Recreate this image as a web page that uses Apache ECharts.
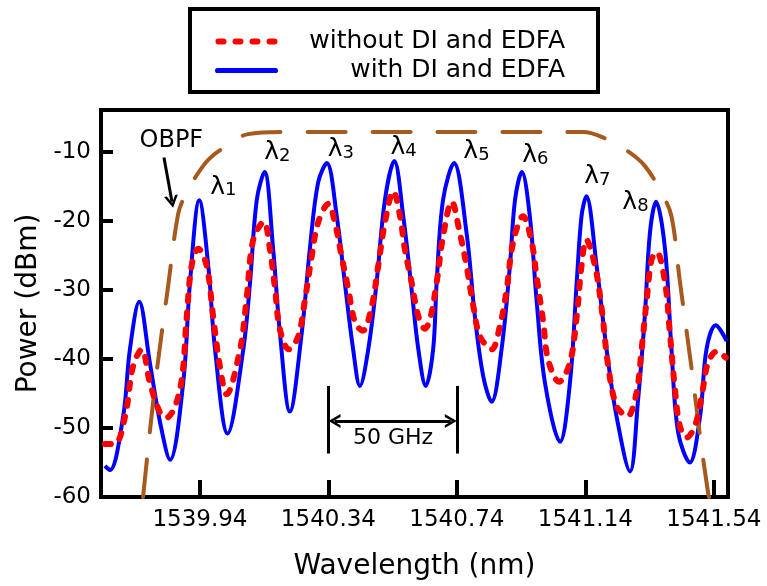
<!DOCTYPE html>
<html>
<head>
<meta charset="utf-8">
<script src="https://cdn.jsdelivr.net/npm/echarts@6/dist/echarts.min.js"></script>
<style>
    html, body { margin: 0; padding: 0; background: #fff; }
    #chart { width: 767px; height: 586px; }
</style>
</head>
<body>
<div id="chart"></div>
<script>
    // 带 DI 和 EDFA（蓝色实线）
    const withWl = [
        1539.644, 1539.660, 1539.701, 1539.722, 1539.751, 1539.784, 1539.816, 1539.847,
        1539.888, 1539.909, 1539.938, 1539.966, 1539.987, 1540.026, 1540.075, 1540.096,
        1540.117, 1540.141, 1540.168, 1540.189, 1540.220, 1540.257, 1540.282, 1540.308,
        1540.335, 1540.366, 1540.391, 1540.417, 1540.438, 1540.464, 1540.490, 1540.516,
        1540.545, 1540.573, 1540.599, 1540.620, 1540.643, 1540.666, 1540.677, 1540.697,
        1540.731, 1540.770, 1540.796, 1540.822, 1540.848, 1540.879, 1540.905, 1540.921,
        1540.942, 1540.967, 1540.988, 1541.014, 1541.061, 1541.092, 1541.113, 1541.128,
        1541.143, 1541.175, 1541.206, 1541.237, 1541.279, 1541.304, 1541.325, 1541.341,
        1541.360, 1541.388, 1541.408, 1541.429, 1541.465, 1541.497, 1541.517, 1541.546,
        1541.580
    ];
    const withPow = [
        -55.5, -56.1, -48.3, -38.6, -31.7, -40.5, -49.2, -54.6,
        -43.4, -28.9, -17.0, -26.5, -38.6, -50.8, -38.6, -28.9,
        -16.9, -12.9, -24.1, -36.2, -47.6, -36.2, -24.1, -14.4,
        -11.6, -19.3, -28.9, -38.6, -43.9, -38.6, -28.9, -16.9,
        -11.3, -19.3, -29.9, -38.6, -43.9, -38.6, -28.9, -16.9,
        -11.6, -21.7, -33.8, -42.5, -46.2, -38.6, -26.5, -16.9,
        -12.9, -19.3, -31.4, -43.4, -52.0, -43.4, -28.9, -19.3,
        -16.4, -26.5, -38.6, -48.3, -56.3, -45.9, -33.8, -21.7,
        -17.2, -24.1, -38.6, -50.7, -55.0, -48.3, -38.6, -35.1,
        -37.4
    ];

    // 不带 DI 和 EDFA（红色点线）
    const withoutWl = [
        1539.644, 1539.675, 1539.707, 1539.732, 1539.759, 1539.784, 1539.816, 1539.836,
        1539.878, 1539.899, 1539.914, 1539.935, 1539.961, 1539.981, 1540.002, 1540.023,
        1540.065, 1540.085, 1540.106, 1540.139, 1540.158, 1540.174, 1540.189, 1540.217,
        1540.246, 1540.267, 1540.288, 1540.308, 1540.340, 1540.360, 1540.381, 1540.402,
        1540.423, 1540.447, 1540.475, 1540.495, 1540.516, 1540.542, 1540.563, 1540.578,
        1540.599, 1540.620, 1540.640, 1540.656, 1540.677, 1540.697, 1540.724, 1540.749,
        1540.770, 1540.791, 1540.812, 1540.848, 1540.874, 1540.895, 1540.915, 1540.946,
        1540.973, 1540.988, 1541.009, 1541.024, 1541.058, 1541.092, 1541.113, 1541.128,
        1541.143, 1541.170, 1541.191, 1541.211, 1541.237, 1541.271, 1541.299, 1541.315,
        1541.331, 1541.346, 1541.362, 1541.388, 1541.403, 1541.419, 1541.434, 1541.455,
        1541.481, 1541.502, 1541.522, 1541.549, 1541.577
    ];
    const withoutPow = [
        -52.3, -52.3, -48.3, -41.0, -38.6, -43.4, -47.8, -48.5,
        -44.4, -33.8, -26.5, -24.0, -26.5, -33.8, -41.0, -45.1,
        -38.6, -31.4, -22.7, -20.1, -24.1, -29.9, -35.7, -38.6,
        -36.7, -31.4, -25.1, -20.2, -17.5, -20.2, -25.1, -29.9,
        -34.7, -35.9, -32.3, -26.5, -20.2, -15.7, -19.3, -24.1,
        -28.9, -33.8, -35.6, -34.3, -28.9, -22.2, -17.2, -21.7,
        -26.5, -32.3, -36.7, -38.6, -35.2, -29.9, -23.1, -19.3,
        -23.1, -28.0, -34.7, -40.1, -43.3, -40.5, -33.8, -26.5,
        -22.7, -26.5, -32.8, -41.0, -46.8, -48.3, -44.9, -38.6,
        -31.4, -25.6, -24.5, -28.9, -36.2, -44.4, -49.7, -51.4,
        -49.7, -45.4, -40.5, -38.9, -39.8
    ];

    // OBPF 滤波器（棕色虚线）
    const obpfWl = [
        1539.763, 1539.800, 1539.841, 1539.872, 1539.893, 1539.950, 1539.997, 1540.090,
        1540.199, 1541.133, 1541.196, 1541.273, 1541.325, 1541.377, 1541.408, 1541.434,
        1541.471, 1541.497, 1541.522, 1541.525
    ];
    const obpfPow = [
        -60.0, -43.9, -29.4, -19.0, -16.4, -12.0, -9.9, -7.4,
        -7.1, -7.1, -7.9, -9.9, -12.0, -15.9, -19.3, -28.7,
        -41.5, -51.2, -59.4, -60.0
    ];

    const xTicks = [1539.94, 1540.34, 1540.74, 1541.14, 1541.54];
    const yTicks = [-60, -50, -40, -30, -20, -10];
    const channels = ['1', '2', '3', '4', '5', '6', '7', '8'];

    const zip = (xs, ys) => xs.map((x, i) => [x, ys[i]]);

    // 标注位置（数据坐标）
    const channelLabelAt = [
        [1540.013, -15.0], [1540.181, -10.0], [1540.379, -9.6], [1540.574, -9.3],
        [1540.801, -9.9], [1540.984, -10.4], [1541.177, -13.5], [1541.296, -17.3]
    ];
    const chevron = 'path://M0,10 L6,0 L12,10 L9.6,10 L6,4 L2.4,10 Z';
    const dotsIcon = 'path://M3,0 L8,0 Q11,0 11,3 Q11,6 8,6 L3,6 Q0,6 0,3 Q0,0 3,0 Z'
        + ' M20,0 L25,0 Q28,0 28,3 Q28,6 25,6 L20,6 Q17,6 17,3 Q17,0 20,0 Z'
        + ' M37,0 L42,0 Q45,0 45,3 Q45,6 42,6 L37,6 Q34,6 34,3 Q34,0 37,0 Z'
        + ' M54,0 L59,0 Q62,0 62,3 Q62,6 59,6 L54,6 Q51,6 51,3 Q51,0 54,0 Z';
    const solidIcon = 'path://M2.5,0 L59.5,0 Q62,0 62,2.5 Q62,5 59.5,5 L2.5,5 Q0,5 0,2.5 Q0,0 2.5,0 Z';
    const font = 'DejaVu Sans';

    const chart = echarts.init(document.getElementById('chart'));
    const option = {
        animation: false,
        legend: {
            data: [
                { name: 'without DI and EDFA', icon: dotsIcon, itemStyle: { color: '#FF0000' } },
                { name: 'with DI and EDFA', icon: solidIcon, itemStyle: { color: '#0000FF' } }
            ],
            orient: 'vertical',
            left: 190,
            top: 9,
            padding: [20, 33, 9, 25],
            itemGap: 4,
            itemWidth: 63,
            itemHeight: 6,
            selectedMode: false,
            borderColor: '#000',
            borderWidth: 4,
            backgroundColor: '#fff',
            formatter: name => '{r|' + name + '}',
            textStyle: {
                color: '#000',
                rich: {
                    r: { width: 282, align: 'right', fontSize: 25, fontFamily: font, lineHeight: 30, color: '#000' }
                }
            }
        },
        grid: {
            left: 101,
            top: 110,
            right: 39,
            bottom: 89,
            show: true,
            borderColor: '#000',
            borderWidth: 4
        },
        xAxis: {
            type: 'value',
            min: 1539.632,
            max: 1541.584,
            axisLine: { show: false },
            splitLine: { show: false },
            axisTick: {
                show: true,
                inside: true,
                length: 17,
                customValues: xTicks,
                lineStyle: { color: '#000', width: 4 }
            },
            axisLabel: {
                customValues: xTicks,
                formatter: v => v.toFixed(2),
                color: '#000',
                fontSize: 23,
                fontFamily: font,
                margin: 12
            },
            name: 'Wavelength (nm)',
            nameLocation: 'middle',
            nameGap: 56,
            nameTextStyle: { color: '#000', fontSize: 28, fontFamily: font }
        },
        yAxis: {
            type: 'value',
            min: -60,
            max: -3.9,
            axisLine: { show: false },
            splitLine: { show: false },
            axisTick: {
                show: true,
                inside: true,
                length: 12,
                customValues: yTicks,
                lineStyle: { color: '#000', width: 4 }
            },
            axisLabel: {
                customValues: yTicks,
                color: '#000',
                fontSize: 23,
                fontFamily: font,
                margin: 10
            },
            name: 'Power (dBm)',
            nameLocation: 'middle',
            nameGap: 58,
            nameTextStyle: { color: '#000', fontSize: 28, fontFamily: font }
        },
        series: [
            {
                name: 'with DI and EDFA',
                type: 'line',
                data: zip(withWl, withPow),
                smooth: 0.35,
                symbol: 'none',
                lineStyle: { color: '#0000FF', width: 4 },
                itemStyle: { color: '#0000FF' }
            },
            {
                name: 'OBPF',
                type: 'line',
                data: zip(obpfWl, obpfPow),
                smooth: 0.35,
                symbol: 'none',
                lineStyle: { color: '#A65A1E', width: 4, type: [38, 27], cap: 'round' }
            },
            {
                name: 'without DI and EDFA',
                type: 'line',
                data: zip(withoutWl, withoutPow),
                smooth: 0.35,
                symbol: 'none',
                lineStyle: { color: '#FF0000', width: 6, type: [6, 11], cap: 'round' },
                itemStyle: { color: '#FF0000' }
            },
            {
                name: 'notes',
                type: 'scatter',
                silent: true,
                symbolSize: 1,
                itemStyle: { color: 'transparent', opacity: 1 },
                label: {
                    show: true,
                    position: 'inside',
                    color: '#000',
                    rich: {
                        l: { fontSize: 25, fontFamily: font, color: '#000', lineHeight: 26, verticalAlign: 'bottom' },
                        s: { fontSize: 18, fontFamily: font, color: '#000', lineHeight: 26, verticalAlign: 'bottom' },
                        t: { fontSize: 24, fontFamily: font, color: '#000' },
                        g: { fontSize: 22, fontFamily: font, color: '#000' }
                    }
                },
                data: channelLabelAt.map((p, i) => ({
                    value: p,
                    label: { formatter: '{l|λ}{s|' + channels[i] + '}' }
                })).concat([
                    { value: [1539.851, -8.4], label: { formatter: '{t|OBPF}' } },
                    { value: [1540.541, -51.5], label: { formatter: '{g|50 GHz}' } }
                ]),
                markLine: {
                    silent: true,
                    animation: false,
                    symbol: 'none',
                    label: { show: false },
                    lineStyle: { color: '#000', width: 3, type: 'solid', opacity: 1 },
                    data: [
                        [{ coord: [1539.828, -10.8] }, { coord: [1539.853, -17.2], symbol: chevron, symbolSize: [14, 12] }],
                        [{ coord: [1540.34, -43.9] }, { coord: [1540.34, -53.7] }],
                        [{ coord: [1540.74, -43.9] }, { coord: [1540.74, -53.7] }],
                        [
                            { coord: [1540.359, -49.0], symbol: chevron, symbolSize: [14, 12] },
                            { coord: [1540.721, -49.0], symbol: chevron, symbolSize: [14, 12] }
                        ]
                    ]
                }
            }
        ]
    };
    chart.setOption(option);
</script>
</body>
</html>
